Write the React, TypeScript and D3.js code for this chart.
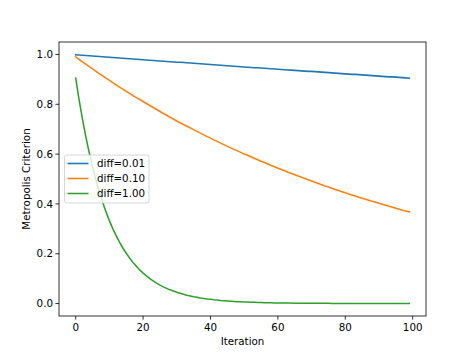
import React from "react";
import * as d3 from "d3";

const seriesLabels = ["diff=0.01", "diff=0.10", "diff=1.00"];
const colors = ["#1f77b4", "#ff7f0e", "#2ca02c"];

const blue = [
  0.999, 0.998, 0.997, 0.996, 0.995, 0.994, 0.993, 0.992, 0.991, 0.990,
  0.989, 0.988, 0.987, 0.986, 0.985, 0.984, 0.983, 0.982, 0.981, 0.980,
  0.979, 0.978, 0.977, 0.976, 0.975, 0.974, 0.973, 0.972, 0.971, 0.970,
  0.969, 0.969, 0.968, 0.967, 0.966, 0.965, 0.964, 0.963, 0.962, 0.961,
  0.960, 0.959, 0.958, 0.957, 0.956, 0.955, 0.954, 0.953, 0.952, 0.951,
  0.950, 0.949, 0.948, 0.947, 0.947, 0.946, 0.945, 0.944, 0.943, 0.942,
  0.941, 0.940, 0.939, 0.938, 0.937, 0.936, 0.935, 0.934, 0.933, 0.932,
  0.932, 0.931, 0.930, 0.929, 0.928, 0.927, 0.926, 0.925, 0.924, 0.923,
  0.922, 0.921, 0.920, 0.920, 0.919, 0.918, 0.917, 0.916, 0.915, 0.914,
  0.913, 0.912, 0.911, 0.910, 0.910, 0.909, 0.908, 0.907, 0.906, 0.905,
];

const orange = [
  0.990, 0.980, 0.970, 0.961, 0.951, 0.942, 0.932, 0.923, 0.914, 0.905,
  0.896, 0.887, 0.878, 0.869, 0.861, 0.852, 0.844, 0.835, 0.827, 0.819,
  0.811, 0.803, 0.795, 0.787, 0.779, 0.771, 0.763, 0.756, 0.748, 0.741,
  0.733, 0.726, 0.719, 0.712, 0.705, 0.698, 0.691, 0.684, 0.677, 0.670,
  0.664, 0.657, 0.651, 0.644, 0.638, 0.631, 0.625, 0.619, 0.613, 0.607,
  0.600, 0.595, 0.589, 0.583, 0.577, 0.571, 0.566, 0.560, 0.554, 0.549,
  0.543, 0.538, 0.533, 0.527, 0.522, 0.517, 0.512, 0.507, 0.502, 0.497,
  0.492, 0.487, 0.482, 0.477, 0.472, 0.468, 0.463, 0.458, 0.454, 0.449,
  0.445, 0.440, 0.436, 0.432, 0.427, 0.423, 0.419, 0.415, 0.411, 0.407,
  0.403, 0.399, 0.395, 0.391, 0.387, 0.383, 0.379, 0.375, 0.372, 0.368,
];

const green = [
  0.905, 0.819, 0.741, 0.670, 0.607, 0.549, 0.497, 0.449, 0.407, 0.368,
  0.333, 0.301, 0.273, 0.247, 0.223, 0.202, 0.183, 0.165, 0.150, 0.135,
  0.122, 0.111, 0.100, 0.091, 0.082, 0.074, 0.067, 0.061, 0.055, 0.050,
  0.045, 0.041, 0.037, 0.033, 0.030, 0.027, 0.025, 0.022, 0.020, 0.018,
  0.017, 0.015, 0.014, 0.012, 0.011, 0.010, 0.009, 0.008, 0.007, 0.007,
  0.006, 0.006, 0.005, 0.005, 0.004, 0.004, 0.003, 0.003, 0.003, 0.002,
  0.002, 0.002, 0.002, 0.002, 0.002, 0.001, 0.001, 0.001, 0.001, 0.001,
  0.001, 0.001, 0.001, 0.001, 0.001, 0.001, 0.000, 0.000, 0.000, 0.000,
  0.000, 0.000, 0.000, 0.000, 0.000, 0.000, 0.000, 0.000, 0.000, 0.000,
  0.000, 0.000, 0.000, 0.000, 0.000, 0.000, 0.000, 0.000, 0.000, 0.000,
];

const xTicks = [0, 20, 40, 60, 80, 100];
const yTicks = [0.0, 0.2, 0.4, 0.6, 0.8, 1.0];

const W = 474;
const H = 355;
const left = 59;
const right = 426;
const top = 42;
const bottom = 316;
const font = "DejaVu Sans, sans-serif";
const fs = 10.3;

export default function App() {
  const series = [blue, orange, green];
  const x = d3.scaleLinear().domain([-4.95, 103.95]).range([left, right]);
  const y = d3.scaleLinear().domain([-0.05, 1.05]).range([bottom, top]);
  const line = d3
    .line<number>()
    .x((_, i) => x(i))
    .y((d) => y(d));

  const legX = 64.5;
  const legY = 155;
  const legW = 84.5;
  const legH = 48;
  const rowY = [163.5, 178.5, 193.5];

  return (
    <svg
      width={W}
      height={H}
      style={{ position: "absolute", left: 0, top: 0, background: "#fff" }}
      fontFamily={font}
    >
      <rect x={0} y={0} width={W} height={H} fill="#fff" />
      {series.map((s, k) => (
        <path key={k} d={line(s) || ""} fill="none" stroke={colors[k]} strokeWidth={1.55} strokeLinecap="square" />
      ))}
      <rect x={left} y={top} width={right - left} height={bottom - top} fill="none" stroke="#000" strokeWidth={0.8} />
      {xTicks.map((t) => (
        <g key={"x" + t}>
          <line x1={x(t)} x2={x(t)} y1={bottom} y2={bottom + 3.6} stroke="#000" strokeWidth={0.8} />
          <text x={x(t)} y={bottom + 14.5} fontSize={fs} textAnchor="middle" fill="#000">
            {t}
          </text>
        </g>
      ))}
      {yTicks.map((t) => (
        <g key={"y" + t}>
          <line x1={left - 3.6} x2={left} y1={y(t)} y2={y(t)} stroke="#000" strokeWidth={0.8} />
          <text x={left - 6} y={y(t) + 3.7} fontSize={fs} textAnchor="end" fill="#000">
            {t.toFixed(1)}
          </text>
        </g>
      ))}
      <text x={(left + right) / 2} y={345} fontSize={fs} textAnchor="middle" fill="#000">
        Iteration
      </text>
      <text
        transform={`translate(${29.5}, ${(top + bottom) / 2}) rotate(-90)`}
        fontSize={fs}
        textAnchor="middle"
        fill="#000"
      >
        Metropolis Criterion
      </text>
      <rect x={legX} y={legY} width={legW} height={legH} rx={2} fill="#fff" fillOpacity={0.8} stroke="#cccccc" strokeWidth={0.8} />
      {seriesLabels.map((lab, k) => (
        <g key={lab}>
          <line x1={67.5} x2={88.5} y1={rowY[k]} y2={rowY[k]} stroke={colors[k]} strokeWidth={1.55} />
          <text x={97} y={rowY[k] + 3.7} fontSize={fs} fill="#000">
            {lab}
          </text>
        </g>
      ))}
    </svg>
  );
}
